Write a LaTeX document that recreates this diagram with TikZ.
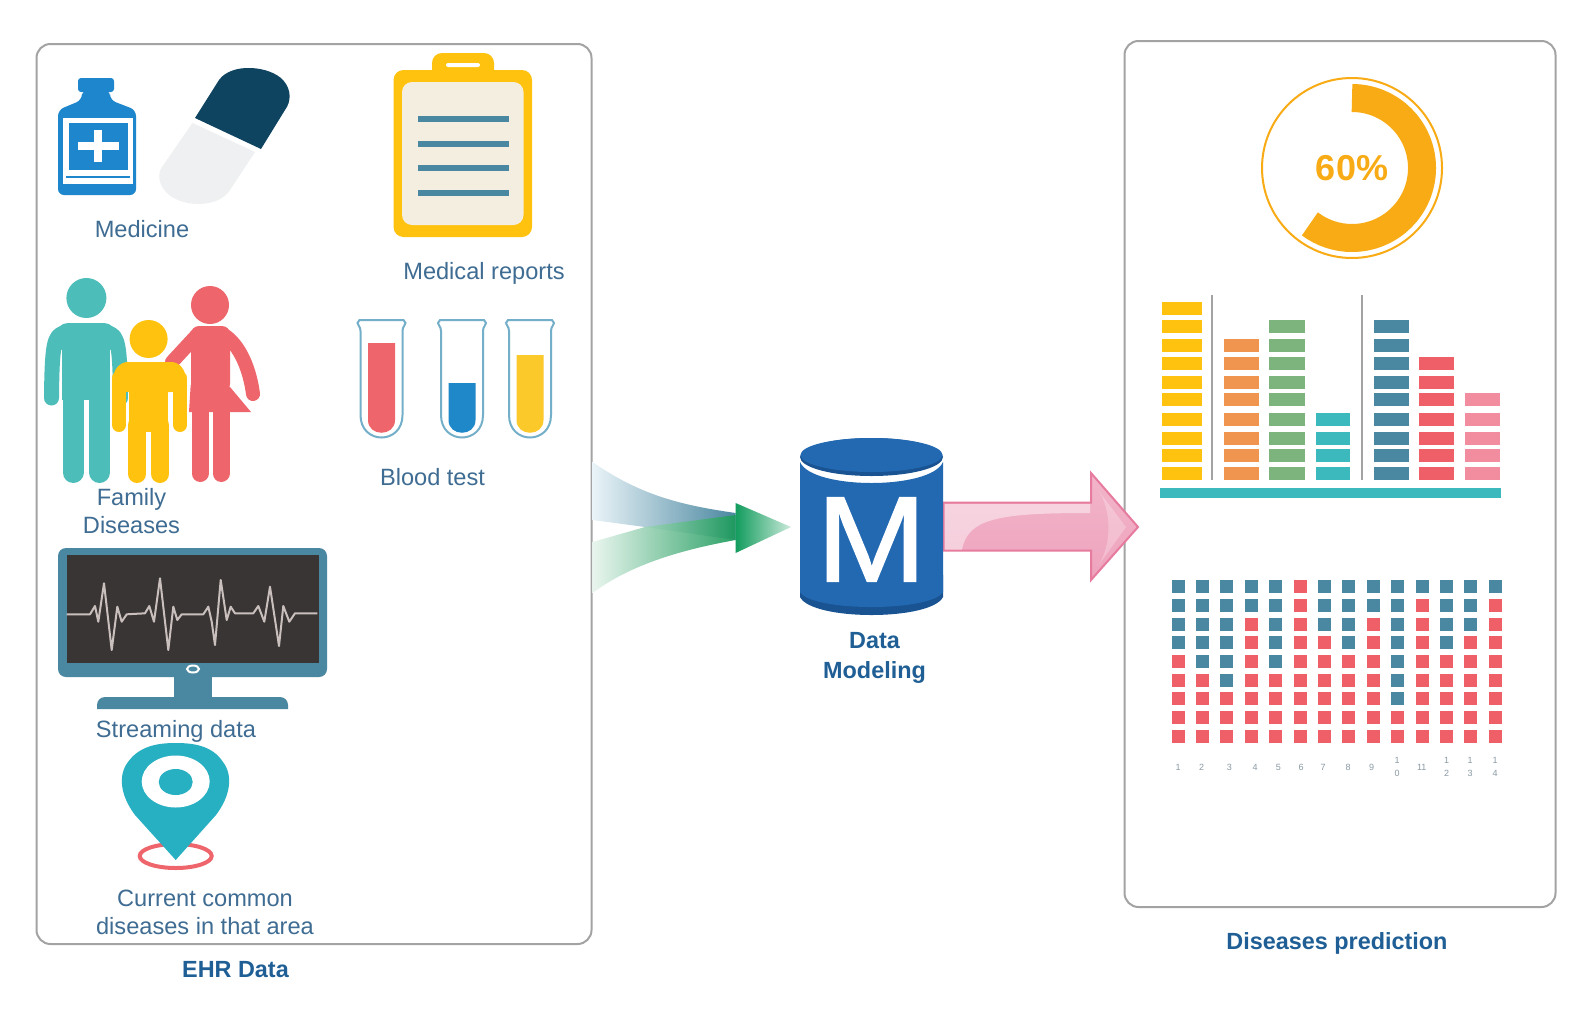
\documentclass[tikz,border=0pt]{standalone}
\usepackage{fontspec}
\setmainfont{Liberation Sans}
\newfontface\mfont[FakeBold=1.2]{Liberation Sans}
\definecolor{txtblue}{HTML}{3F6C92}
\definecolor{boldblue}{HTML}{1F5F95}
\definecolor{frame}{HTML}{A3A3A3}
\definecolor{bottle}{HTML}{1E86CC}
\definecolor{pilldk}{HTML}{0F4460}
\definecolor{pilllt}{HTML}{EEF0F1}
\definecolor{amber}{HTML}{FFC20E}
\definecolor{cream}{HTML}{F3EEDF}
\definecolor{steel}{HTML}{4A87A0}
\definecolor{tealish}{HTML}{4DBDBA}
\definecolor{coral}{HTML}{EE666B}
\definecolor{tubeline}{HTML}{74AFC9}
\definecolor{tubeblue}{HTML}{1E88C8}
\definecolor{tubeyel}{HTML}{FBC92A}
\definecolor{screen}{HTML}{3A3535}
\definecolor{pulse}{HTML}{C9C0BD}
\definecolor{pincol}{HTML}{27AFC2}
\definecolor{cylblue}{HTML}{2269B2}
\definecolor{cyldark}{HTML}{1A5391}
\definecolor{donut}{HTML}{F8AB14}
\definecolor{barorange}{HTML}{F0954F}
\definecolor{bargreen}{HTML}{7DB37C}
\definecolor{barteal}{HTML}{3BB9BD}
\definecolor{barred}{HTML}{EE5F67}
\definecolor{barpink}{HTML}{F28DA0}
\definecolor{numgray}{HTML}{8A9AA3}
\definecolor{flowlt}{HTML}{EAF4F8}
\definecolor{flowmd}{HTML}{A3C6D6}
\definecolor{greenlt}{HTML}{E8F5EE}
\definecolor{greenmd}{HTML}{6FC49A}
\definecolor{greendk}{HTML}{1B9A5A}
\definecolor{greenhd}{HTML}{129C5D}
\definecolor{greentp}{HTML}{CBEADB}
\definecolor{arrowpk}{HTML}{EEA3BD}
\definecolor{arrowtp}{HTML}{F2B5CA}
\definecolor{arrowln}{HTML}{E77B9E}
\begin{document}
\begin{tikzpicture}[x=0.5pt,y=-0.5pt]
    \tikzstyle{panel}=[rectangle,draw=frame,line width=1pt,rounded corners=7pt,inner sep=0pt]
    \tikzstyle{lbl}=[align=center,text=txtblue,inner sep=0pt,font=\fontsize{11.8}{14.3}\selectfont]
    \tikzstyle{head}=[lbl,text=boldblue,font=\fontsize{11.7}{14.6}\selectfont\bfseries]
    \tikzstyle{limb}=[line cap=round,line join=round]
    \path[use as bounding box,fill=white] (0,0) rectangle (1572,1033);

    % panels
    \node[panel,minimum width=277.5pt,minimum height=450pt] (ehr) at (314,494) {};
    \node[panel,minimum width=215.5pt,minimum height=433pt] (pred) at (1340,474) {};
    \node[inner sep=0pt,minimum width=71.5pt,minimum height=88.5pt] (mod) at (871.5,526.5) {};
    \coordinate (gtip) at (791,527);
    \coordinate (ptip) at (1138,527);

    % bottle
    \fill[bottle,rounded corners=1.5pt] (78,78) rectangle (114,92);
    \fill[bottle,rounded corners=3pt] (82,90) -- (110,90) -- (110,100) -- (136,110) -- (136,195) -- (58,195) -- (58,110) -- (82,100) -- cycle;
    \fill[white] (63,118) rectangle (133,184);
    \fill[bottle] (68.5,123) rectangle (128,170);
    \fill[bottle] (66,176) rectangle (130,178);
    \fill[white] (78,142) rectangle (118.5,150);
    \fill[white] (94,130) rectangle (102,162);
    % capsule
    \fill[pilldk] (195,118) -- (219,80) .. controls (232,62) and (270,66) .. (283,80) .. controls (292,90) and (291,102) .. (285,110) -- (261,149) -- cycle;
    \fill[pilllt] (192.5,123) -- (255,152) -- (230,190) .. controls (220,206) and (190,208) .. (172,197) .. controls (160,189) and (156,176) .. (162,167) -- cycle;
    \node[lbl] (medc) at (142,229) {Medicine};

    % clipboard
    \fill[amber,rounded corners=5pt] (432,53) rectangle (494,85);
    \fill[white,rounded corners=1pt] (446,63) rectangle (480,67);
    \fill[amber,rounded corners=5pt] (393.5,70) rectangle (532,237);
    \fill[cream,rounded corners=5pt] (402,82) rectangle (523.5,225);
    \foreach \yy in {119,144,168,193}
      \fill[steel] (417.5,\yy-3) rectangle (508.5,\yy+3);
    \node[lbl] (repc) at (484,273) {Medical reports};

    % family
    \fill[tealish] (86.4,298) circle (20);
    \fill[tealish,rounded corners=6pt] (56,323) rectangle (116,352);
    \fill[tealish] (62,335) rectangle (110,400);
    \draw[tealish,line width=7.5pt,limb] (64,333) .. controls (54,335) and (52,345) .. (51.5,398);
    \draw[tealish,line width=7.5pt,limb] (108,333) .. controls (118,335) and (120,345) .. (120.5,398);
    \draw[tealish,line width=10.5pt,limb] (73,395) -- (73,472.5);
    \draw[tealish,line width=10.5pt,limb] (99.5,395) -- (99.5,472.5);
    \fill[coral] (210,305) circle (19);
    \fill[coral,rounded corners=4pt] (191,326) rectangle (230,392);
    \draw[coral,line width=7pt,limb] (197,335) -- (172,362);
    \draw[coral,line width=7pt,limb] (224,335) .. controls (240,345) and (250,370) .. (253,394);
    \fill[coral] (190.7,385) -- (230,387) -- (251,412) -- (189,412) -- cycle;
    \draw[coral,line width=8.5pt,limb] (200,410) -- (200,473.5);
    \draw[coral,line width=8.5pt,limb] (221,410) -- (221,473.5);
    \fill[amber] (148.6,339) circle (19);
    \fill[amber,rounded corners=7pt] (114,362) rectangle (185,392);
    \fill[amber] (129,375) rectangle (168,432);
    \draw[amber,line width=7pt,limb] (119,378) -- (119,425);
    \draw[amber,line width=7pt,limb] (180,378) -- (180,425);
    \draw[amber,line width=9pt,limb] (137,425) -- (137,474);
    \draw[amber,line width=9pt,limb] (160,425) -- (160,474);
    \node[lbl] (famc) at (131.5,511) {Family\\Diseases};

    % test tubes
    \foreach \x/\lev/\col in {381.5/343/coral,462/383/tubeblue,530/355/tubeyel}{
      \begin{scope}[shift={(\x,0)}]
        \draw[tubeline,line width=1pt,fill=white] (-21,331) .. controls (-21,326) and (-24,326) .. (-24,323) -- (-22,320) -- (22,320) -- (24,323) .. controls (24,326) and (21,326) .. (21,331) -- (21,415) .. controls (21,445) and (-21,445) .. (-21,415) -- cycle;
        \fill[\col] (-13.5,\lev) -- (13.5,\lev) -- (13.5,420) .. controls (13.5,437) and (-13.5,437) .. (-13.5,420) -- cycle;
      \end{scope}
    }
    \node[lbl] (bloodc) at (432.5,477) {Blood test};

    % monitor
    \fill[steel,rounded corners=4pt] (58,548) rectangle (327,677);
    \fill[screen] (67,555) rectangle (319,663);
    \fill[steel] (174,675) rectangle (212,700);
    \fill[steel] (97,709) [rounded corners=4pt] -- (97,697) -- (288,697) [sharp corners] -- (288,709) -- cycle;
    \draw[white,line width=1pt] (193,669) ellipse (6 and 3.5);
    \draw[pulse,line width=1pt,line join=round] (66.7,614.3) -- (90,614.3) -- (95,606) -- (98.3,621.7) -- (104,583.3) -- (111.7,650) -- (117.3,606.7) -- (121.7,621.7) -- (126.7,614.3) -- (145,613.3) -- (149.3,606) -- (154,621.7) -- (160,578.3) -- (168.3,650) -- (173.3,606.7) -- (177.3,620) -- (181.7,614.3) -- (203.3,614.3) -- (208.3,606.7) -- (211.7,621.7) -- (215,645) -- (220.7,580) -- (226.7,620) -- (230.7,606.7) -- (235,613.3) -- (253.3,613.3) -- (258.3,606) -- (264.3,621.7) -- (270,586.7) -- (279,646) -- (283.3,606) -- (289.3,621.7) -- (295,613.3) -- (317.3,613.3);
    \node[lbl] (strc) at (176,731) {Streaming data};

    % map pin
    \draw[coral,line width=2pt] (175.7,856) ellipse (36 and 12);
    \fill[pincol] (175.7,860) -- (135,815) .. controls (120,795) and (118,775) .. (128,762) .. controls (140,745) and (160,743) .. (175.7,743) .. controls (192,743) and (212,745) .. (223,762) .. controls (233,775) and (231,795) .. (216,815) -- cycle;
    \fill[white] (175.7,781.5) ellipse (34 and 26);
    \fill[pincol] (175.7,782) ellipse (17 and 13);
    \node[lbl] (areac) at (205,912.5) {Current common\\diseases in that area};
    \node[head] (ehrc) at (235.5,970) {EHR Data};

    % flows into the model
    \shade[left color=flowlt,middle color=flowmd,right color=steel] (ehr.east |- 0,462) .. controls (640,495) and (680,505) .. ([xshift=-32pt]mod.west |- 0,513) -- ([xshift=-32pt]mod.west |- 0,540) -- (645,527) -- (ehr.east |- 0,520) -- cycle;
    \shade[left color=greenlt,middle color=greenmd,right color=greendk,opacity=.92] (ehr.east |- 0,542) -- (645,527) -- ([xshift=-32pt]mod.west |- 0,515) -- ([xshift=-32pt]mod.west |- 0,540) .. controls (680,550) and (630,565) .. (ehr.east |- 0,593) -- cycle;
    \shade[left color=greenhd,right color=greentp] ([xshift=-32pt]mod.west |- 0,503) -- (gtip) -- ([xshift=-32pt]mod.west |- 0,553) -- cycle;

    % arrow out of the model
    \shade[draw=arrowln,line width=1pt,top color=arrowtp,bottom color=arrowpk] ([yshift=12pt]mod.east) -- (1091,502.5) -- (1091,473) -- (ptip) -- (1091,580) -- (1091,550.5) -- ([yshift=-12pt]mod.east) -- cycle;
    \fill[white,opacity=.45] (945,504) -- (1090,504) -- (1090,513) .. controls (1000,513) and (968,518) .. (962,549.5) -- (945,549.5) -- cycle;
    \fill[white,opacity=.25] (1098,490) .. controls (1112,510) and (1112,545) .. (1098,566) -- (1126,527) -- cycle;

    % cylinder
    \fill[cyldark] (800,575) -- (800,597) .. controls (812,621) and (931,621) .. (943,597) -- (943,575) -- cycle;
    \fill[cylblue] (800,462) .. controls (812,490) and (931,490) .. (943,462) -- (943,592) .. controls (931,612) and (812,612) .. (800,592) -- cycle;
    \fill[cyldark] (871.5,457) ellipse (71.5 and 19);
    \fill[cylblue] (871.5,455) ellipse (71 and 17);
    \node[inner sep=0pt,text=white,font=\fontsize{61}{61}\mfont] (mlet) at ([yshift=-6.5pt]mod.center) {\scalebox{1.08}[1]{M}};
    \node[head,below of=mod,node distance=65.7pt,xshift=1.5pt] (modc) {Data\\Modeling};

    % donut
    \draw[donut,line width=1pt] (1352,168) circle (90);
    \draw[donut,line width=14pt] (1352,98) arc[start angle=-90,end angle=127,radius=70];
    \node[inner sep=0pt,text=donut,font=\fontsize{18}{18}\selectfont\bfseries] (pct) at (1352,168) {60\%};

    % bars
    \foreach \xa/\xb/\nskip/\col in {1161.7/1201.7/0/amber,1224.3/1259.3/2/barorange,1269.3/1305/1/bargreen,1316/1350/6/barteal,1374/1409.3/1/steel,1419.3/1454.3/3/barred,1465/1500/5/barpink}{
      \foreach \yy [count=\nn] in {301.7,320,339,356.7,376,393.3,412.7,431.7,449.3,467.3}{
        \ifnum\nn>\nskip
          \fill[\col] (\xa,\yy) rectangle (\xb,\yy+13);
        \fi
      }
    }
    \draw[frame,line width=1pt] (1212.3,295) -- (1212.3,480);
    \draw[frame,line width=1pt] (1362.3,295) -- (1362.3,480);
    \fill[barteal] (1160,488) rectangle (1500.7,498);

    % grid
    \foreach \nblue [count=\cc] in {4,5,6,2,5,0,3,4,2,7,1,4,3,1}{
      \foreach \yy [count=\rr] in {586,605,624.3,642.3,661.7,680.7,698.3,717.3,736.3}{
        \ifnum\rr>\nblue \def\colr{barred}\else\def\colr{steel}\fi
        \fill[\colr] ({1178+24.4*(\cc-1)-6.5},\yy-6.5) rectangle +(13,13);
      }
    }
    \foreach \x/\t [count=\nn] in {1178/1,1201.7/2,1229.3/3,1255/4,1278.3/5,1301/6,1323/7,1348/8,1371.7/9,1397/{1\\0},1421.7/11,1446.7/{1\\2},1470/{1\\3},1495/{1\\4}}
      \node[align=center,inner sep=0pt,text=numgray,font=\fontsize{4.5}{6.5}\selectfont] (num\nn) at (\x,767) {\t};
    \node[head] (predc) at (1337,943) {Diseases prediction};
  \end{tikzpicture}
\end{document}
